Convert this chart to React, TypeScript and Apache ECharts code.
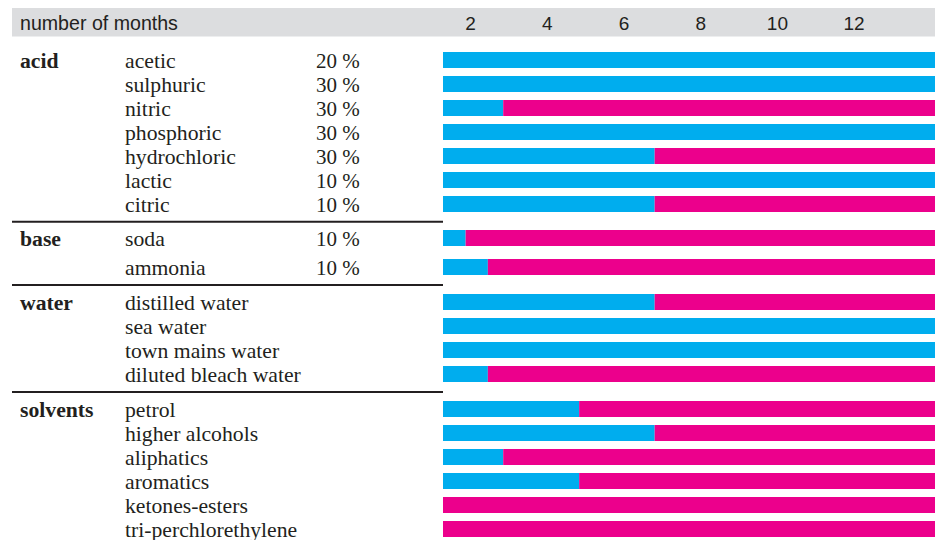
import React, { useEffect, useRef } from "react";
import * as echarts from "echarts";

// ---- data ----
const monthTicks = [2, 4, 6, 8, 10, 12];
const scaleStart = 1.28;
const scaleEnd = 14.11; // full-scale bars (resistant over the whole period)

const groupNames = ["acid", "base", "water", "solvents"];

const acidItems = ["acetic", "sulphuric", "nitric", "phosphoric", "hydrochloric", "lactic", "citric"];
const acidPct = ["20 %", "30 %", "30 %", "30 %", "30 %", "10 %", "10 %"];
const acidMonths = [14.11, 14.11, 2.85, 14.11, 6.8, 14.11, 6.8];

const baseItems = ["soda", "ammonia"];
const basePct = ["10 %", "10 %"];
const baseMonths = [1.87, 2.45];

const waterItems = ["distilled water", "sea water", "town mains water", "diluted bleach water"];
const waterPct = ["", "", "", ""];
const waterMonths = [6.8, 14.11, 14.11, 2.45];

const solventItems = ["petrol", "higher alcohols", "aliphatics", "aromatics", "ketones-esters", "tri-perchlorethylene"];
const solventPct = ["", "", "", "", "", ""];
const solventMonths = [4.83, 6.8, 2.85, 4.83, 0, 0];

const groups = [
  { name: groupNames[0], items: acidItems, pct: acidPct, months: acidMonths },
  { name: groupNames[1], items: baseItems, pct: basePct, months: baseMonths },
  { name: groupNames[2], items: waterItems, pct: waterPct, months: waterMonths },
  { name: groupNames[3], items: solventItems, pct: solventPct, months: solventMonths },
];

// ---- layout / style ----
const gridLayout = [
  { top: 48, height: 168 },
  { top: 223.5, height: 58 },
  { top: 290, height: 96 },
  { top: 397, height: 144 },
];
const dividerYs = [221.7, 285, 392];
const BLUE = "#00adee";
const PINK = "#ec008c";
const TEXT = "#231f20";
const SERIF = "'Liberation Serif', 'Times New Roman', serif";
const SANS = "'Liberation Sans', Arial, sans-serif";
const SERIF_SIZE = 21.7;

export default function App() {
  const ref = useRef<HTMLDivElement>(null);

  useEffect(() => {
    if (!ref.current) return;
    const chart = echarts.init(ref.current, undefined, { renderer: "svg" });

    const grids: any[] = [];
    const xAxes: any[] = [];
    const yAxes: any[] = [];
    const series: any[] = [];

    groups.forEach((g, gi) => {
      grids.push({
        left: 443,
        right: 3,
        top: gridLayout[gi].top,
        height: gridLayout[gi].height,
        containLabel: false,
        outerBoundsMode: "none",
      });
      xAxes.push({
        gridIndex: gi,
        type: "value",
        position: "top",
        min: scaleStart,
        max: scaleEnd,
        show: gi === 0,
        axisLine: { show: false },
        axisTick: { show: false },
        splitLine: { show: false },
        axisLabel: {
          show: gi === 0,
          customValues: monthTicks,
          margin: 25,
          verticalAlign: "middle",
          color: TEXT,
          fontFamily: SANS,
          fontSize: 19,
        },
      });
      yAxes.push({
        gridIndex: gi,
        type: "category",
        inverse: true,
        data: g.items,
        axisLine: { show: false },
        axisTick: { show: false },
        splitLine: { show: false },
        axisLabel: {
          interval: 0,
          align: "left",
          margin: 423,
          padding: [2, 0, 0, 0],
          formatter: (value: string) => {
            const i = g.items.indexOf(value);
            const head = i === 0 ? `{g|${g.name}}` : `{g| }`;
            const pct = g.pct[i] ? `{p|${g.pct[i]}}` : "";
            return `${head}{n|${value}}${pct}`;
          },
          rich: {
            g: { fontFamily: SERIF, fontWeight: "bold", fontSize: SERIF_SIZE, width: 105, color: TEXT },
            n: { fontFamily: SERIF, fontSize: SERIF_SIZE, width: 191, color: TEXT },
            p: { fontFamily: SERIF, fontSize: 21, color: TEXT },
          },
        },
      });
      series.push({
        type: "bar",
        xAxisIndex: gi,
        yAxisIndex: gi,
        stack: "s" + gi,
        barWidth: 16,
        clip: true,
        itemStyle: { color: BLUE },
        data: g.months,
      });
      series.push({
        type: "bar",
        xAxisIndex: gi,
        yAxisIndex: gi,
        stack: "s" + gi,
        barWidth: 16,
        clip: true,
        itemStyle: { color: PINK },
        data: g.months.map((m) => scaleEnd - m),
      });
    });

    const graphic: any[] = [
      {
        type: "rect",
        z: -10,
        shape: { x: 12, y: 8, width: 923, height: 28.5 },
        style: { fill: "#dcdddf" },
      },
      {
        type: "text",
        x: 20,
        y: 22.7,
        style: {
          text: "number of months",
          fill: TEXT,
          font: `19.6px ${SANS}`,
          verticalAlign: "middle",
          align: "left",
        },
      },
      ...dividerYs.map((y) => ({
        type: "line",
        shape: { x1: 12, y1: y, x2: 443, y2: y },
        style: { stroke: TEXT, lineWidth: 2 },
      })),
    ];

    chart.setOption({
      animation: false,
      backgroundColor: "#ffffff",
      grid: grids,
      xAxis: xAxes,
      yAxis: yAxes,
      series,
      graphic,
    });

    return () => chart.dispose();
  }, []);

  return (
    <div
      ref={ref}
      style={{ position: "absolute", left: 0, top: 0, width: 938, height: 540 }}
    />
  );
}
